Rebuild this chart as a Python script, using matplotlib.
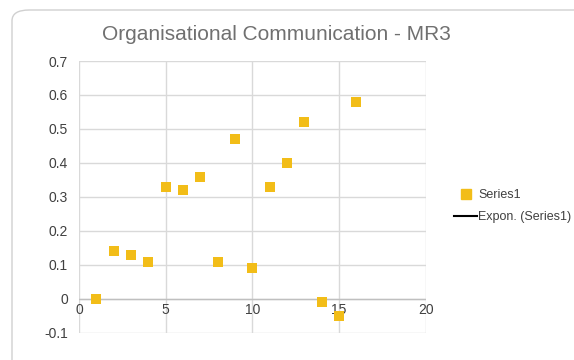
import matplotlib
matplotlib.use("Agg")
import matplotlib.pyplot as plt
from matplotlib.patches import FancyBboxPatch
from matplotlib.lines import Line2D

plt.rcParams['font.family'] = ['Liberation Sans', 'DejaVu Sans']

# respondent index vs. score
x_vals = [1, 2, 3, 4, 5, 6, 7, 8, 9, 10, 11, 12, 13, 14, 15, 16]
y_vals = [0.0, 0.14, 0.13, 0.11, 0.33, 0.32, 0.36, 0.11, 0.47, 0.09,
          0.33, 0.40, 0.52, -0.01, -0.05, 0.58]
x_ticks = [0, 5, 10, 15, 20]
y_ticks = [-0.1, 0, 0.1, 0.2, 0.3, 0.4, 0.5, 0.6, 0.7]
y_labels = ['-0.1', '0', '0.1', '0.2', '0.3', '0.4', '0.5', '0.6', '0.7']

gold = '#F2BD18'
grid_c = '#D9D9D9'
txt_c = '#404040'

fig = plt.figure(figsize=(5.74, 3.6), dpi=100)
fig.patch.set_facecolor('white')

# chart frame with rounded corner
frame = FancyBboxPatch((12 / 574, -0.2), 1.2, 1.2 - 10 / 360,
                       boxstyle='round,pad=0,rounding_size=0.03',
                       transform=fig.transFigure, facecolor='white',
                       edgecolor='#D0D0D0', linewidth=1.0, zorder=0)
fig.add_artist(frame)

ax = fig.add_axes([79 / 574, 1 - 333 / 360, (425.7 - 79) / 574, (333 - 61) / 360])
ax.set_facecolor('none')
ax.set_xlim(0, 20)
ax.set_ylim(-0.1, 0.7)
ax.set_xticks(x_ticks)
ax.set_yticks(y_ticks)
ax.set_yticklabels(y_labels)
ax.grid(True, color=grid_c, linewidth=1.0)
ax.set_axisbelow(True)
for s in ax.spines.values():
    s.set_visible(False)
ax.axhline(0, color='#BFBFBF', linewidth=1.0, zorder=1)
ax.tick_params(length=0, labelsize=10, colors=txt_c)
ax.tick_params(axis='y', pad=8)
ax.tick_params(axis='x', labelbottom=False)
# x labels hang under the zero line instead of the bottom edge
for xv in x_ticks:
    ax.text(xv, -0.012, str(xv), ha='center', va='top', fontsize=10, color=txt_c)

ax.scatter(x_vals, y_vals, marker='s', s=62, color=gold, zorder=3, linewidths=0)

fig.text(276 / 574, 1 - 34 / 360, 'Organisational Communication - MR3',
         ha='center', va='center', fontsize=15, color='#707070')

handles = [
    Line2D([], [], marker='s', linestyle='none', color=gold, markersize=7),
    Line2D([], [], color='black', linewidth=1.5),
]
fig.legend(handles, ['Series1', 'Expon. (Series1)'], loc='center left',
           bbox_to_anchor=(443 / 574, 1 - 206 / 360), frameon=False,
           fontsize=9, handlelength=1.8, handletextpad=0.1, labelspacing=0.8,
           labelcolor=txt_c)

fig.savefig('out.png', dpi=100, facecolor='white')
